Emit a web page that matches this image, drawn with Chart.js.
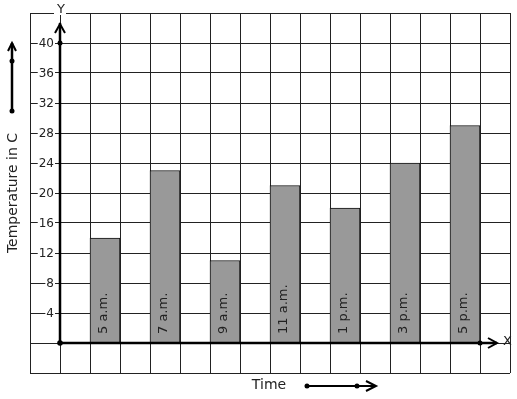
<!DOCTYPE html>
<html><head><meta charset="utf-8">
<script src="https://cdn.jsdelivr.net/npm/chart.js@4"></script>
<style>html,body{margin:0;padding:0;background:#fff}#wrap{width:517px;height:399px;position:relative}</style>
</head><body><div id="wrap"><canvas id="c" width="517" height="399"></canvas></div>
<script>
// grid cells along x (16 columns); bars only in every other cell
const cells = ['', '', '5 a.m.', '', '7 a.m.', '', '9 a.m.', '', '11 a.m.', '', '1 p.m.', '', '3 p.m.', '', '5 p.m.', ''];
const temps = [null, null, 14, null, 23, null, 11, null, 21, null, 18, null, 24, null, 29, null];
const yTicks = [4, 8, 12, 16, 20, 24, 28, 32, 36, 40];
const yTitle = 'Temperature in C';
const xTitle = 'Time';

const FONT = '"DejaVu Sans", sans-serif';

const overlay = {
  id: 'overlay',
  afterDatasetsDraw(chart) {
    const ctx = chart.ctx, xs = chart.scales.x, ys = chart.scales.y, ca = chart.chartArea;
    const x0 = (xs.getPixelForValue(0) + xs.getPixelForValue(1)) / 2;
    const y0 = ys.getPixelForValue(0);
    ctx.save();
    // bar labels
    ctx.fillStyle = '#222';
    ctx.font = '13px ' + FONT;
    ctx.textAlign = 'left'; ctx.textBaseline = 'middle';
    cells.forEach((c, i) => {
      if (!c) return;
      ctx.save();
      ctx.translate(xs.getPixelForValue(i) - 1, y0 - 9);
      ctx.rotate(-Math.PI / 2);
      ctx.fillText(c, 0, 0);
      ctx.restore();
    });
    // y tick labels with white backdrop
    ctx.font = '12px ' + FONT;
    ctx.textAlign = 'right';
    yTicks.forEach(v => {
      const py = ys.getPixelForValue(v);
      const w = ctx.measureText(String(v)).width;
      ctx.fillStyle = '#fff';
      ctx.fillRect(54 - w - 1, py - 5, w + 2, 10);
      ctx.fillStyle = '#222';
      ctx.fillText(String(v), 54, py + 1);
    });
    // axes
    ctx.strokeStyle = '#000'; ctx.fillStyle = '#000';
    ctx.lineWidth = 2.5;
    ctx.beginPath();
    ctx.moveTo(x0, y0); ctx.lineTo(x0, ca.top + 10);
    ctx.moveTo(x0, y0); ctx.lineTo(ca.right - 13, y0);
    ctx.stroke();
    ctx.lineWidth = 2;
    ctx.beginPath();
    ctx.moveTo(x0 - 5, ca.top + 20); ctx.lineTo(x0, ca.top + 11); ctx.lineTo(x0 + 5, ca.top + 20);
    ctx.moveTo(ca.right - 22, y0 - 5); ctx.lineTo(ca.right - 13, y0); ctx.lineTo(ca.right - 22, y0 + 5);
    ctx.stroke();
    const dot = (x, y, r) => { ctx.beginPath(); ctx.arc(x, y, r, 0, Math.PI * 2); ctx.fill(); };
    dot(x0, y0, 2.8);
    dot(x0, ys.getPixelForValue(40), 2.5);
    dot(xs.getPixelForValue(14) + (xs.getPixelForValue(15) - xs.getPixelForValue(14)) / 2, y0, 2.5);
    // Y label with gap in top border
    ctx.fillStyle = '#fff';
    ctx.fillRect(x0 - 6, ca.top - 2, 12, 4);
    ctx.fillStyle = '#222';
    ctx.font = '13px ' + FONT;
    ctx.textAlign = 'center'; ctx.textBaseline = 'middle';
    ctx.fillText('Y', x0 + 1, ca.top - 3);
    ctx.textAlign = 'left';
    ctx.fillText('X', ca.right - 7, y0 - 1);
    // y title
    ctx.font = '14px ' + FONT;
    ctx.save();
    ctx.translate(13, 193);
    ctx.rotate(-Math.PI / 2);
    ctx.textAlign = 'center';
    ctx.fillText(yTitle, 0, 0);
    ctx.restore();
    // x title
    ctx.textAlign = 'center';
    ctx.fillText(xTitle, 269, 385);
    // side arrows
    ctx.fillStyle = '#000'; ctx.strokeStyle = '#000';
    ctx.lineWidth = 2.5;
    ctx.beginPath(); ctx.moveTo(12, 111); ctx.lineTo(12, 43); ctx.stroke();
    ctx.lineWidth = 2;
    ctx.beginPath(); ctx.moveTo(8, 51); ctx.lineTo(12, 43); ctx.lineTo(16, 51); ctx.stroke();
    dot(12, 111, 2.5); dot(12, 61, 2.5);
    ctx.lineWidth = 2;
    ctx.beginPath(); ctx.moveTo(307, 386); ctx.lineTo(376, 386); ctx.stroke();
    ctx.beginPath(); ctx.moveTo(366, 381); ctx.lineTo(376, 386); ctx.lineTo(366, 391); ctx.stroke();
    dot(307, 386, 2.5); dot(357, 386, 2.5);
    ctx.restore();
  }
};

new Chart(document.getElementById('c'), {
  type: 'bar',
  data: {
    labels: cells,
    datasets: [{
      data: temps,
      backgroundColor: '#999999',
      borderColor: '#111',
      borderWidth: 1,
      barPercentage: 1,
      categoryPercentage: 1
    }]
  },
  options: {
    responsive: false,
    animation: false,
    devicePixelRatio: 1,
    layout: { padding: { left: 30, top: 13, right: 7, bottom: 26 } },
    plugins: { legend: { display: false }, tooltip: { enabled: false } },
    scales: {
      x: {
        offset: true,
        grid: { color: '#222', lineWidth: 1, offset: true, drawTicks: false },
        border: { display: false },
        ticks: { display: false }
      },
      y: {
        min: -4, max: 44,
        ticks: { display: false, stepSize: 4 },
        grid: { color: '#222', lineWidth: 1, drawTicks: false },
        border: { display: false }
      }
    }
  },
  plugins: [overlay]
});
</script>
</body></html>
